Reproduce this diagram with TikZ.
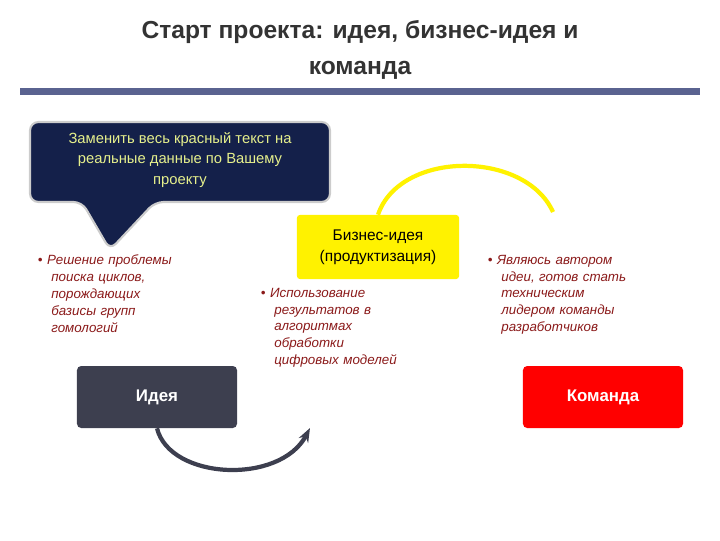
\documentclass[tikz,border=0pt]{standalone}
\usepackage{fontspec}
\setmainfont{Liberation Sans}
\usetikzlibrary{arrows.meta}
\definecolor{navy}{HTML}{14204A}
\definecolor{titlegray}{HTML}{333333}
\definecolor{rulecol}{HTML}{5A6390}
\definecolor{ideagray}{HTML}{3D3F4F}
\definecolor{textred}{HTML}{8B1A1A}
\definecolor{hint}{HTML}{E6F08C}
\tikzset{
  bullettext/.style={anchor=north west, align=left, text width=4.5cm, font=\fontsize{9.5}{12}\selectfont\itshape, text=textred},
  stagebox/.style={rounded corners=3pt, minimum width=4cm, minimum height=1.55cm, font=\fontsize{12}{14}\selectfont\bfseries, text=white}
}
\begin{document}
\begin{tikzpicture}[x=0.025cm,y=-0.025cm]
\useasboundingbox (0,0) rectangle (720,540);
% title
\node[font=\fontsize{17.5}{25}\selectfont\bfseries, text=titlegray, align=center] (title) at (360,50) {Старт проекта: идея, бизнес-идея и\\команда};
\fill[rulecol] (20,88) rectangle (700,95);
% callout
\draw[gray!40, line width=1.5pt, fill=navy, rounded corners=6pt] (30,122) -- (330,122) -- (330,202) -- (155,202) -- (110,250) -- (82,202) -- (30,202) -- cycle;
\node[text=hint, align=center, font=\fontsize{10.5}{14.5}\selectfont] (hinttext) at (180,160) {Заменить весь красный текст на\\реальные данные по Вашему\\проекту};
% white text boxes
\fill[white] (35,250) rectangle (215,390);
\fill[white] (258,282) rectangle (440,375);
\fill[white] (485,250) rectangle (665,355);
\node[bullettext] (ideatext) at (33,250) {\textbullet\ Решение проблемы\\\hspace*{1em}поиска циклов,\\\hspace*{1em}порождающих\\\hspace*{1em}базисы групп\\\hspace*{1em}гомологий};
\node[bullettext] (biztext) at (256,283) {\textbullet\ Использование\\\hspace*{1em}результатов в\\\hspace*{1em}алгоритмах\\\hspace*{1em}обработки\\\hspace*{1em}цифровых моделей};
\node[bullettext] (teamtext) at (483,250) {\textbullet\ Являюсь автором\\\hspace*{1em}идеи, готов стать\\\hspace*{1em}техническим\\\hspace*{1em}лидером команды\\\hspace*{1em}разработчиков};
% stage boxes
\node[stagebox, fill=ideagray] (idea) at (157,397) {Идея};
\node[stagebox, fill=red] (team) at (603,397) {Команда};
\node[fill=yellow, rounded corners=2pt, minimum width=4.05cm, minimum height=1.6cm, align=center, font=\fontsize{11}{15}\selectfont] (biz) at (378,247) {Бизнес-идея\\(продуктизация)};
% arcs
\draw[yellow, line width=3pt] (biz.north) .. controls (400,150) and (525,150) .. (553,212);
\draw[ideagray, line width=3pt, -{Stealth[length=10pt]}] (idea.south) .. controls (170,480) and (280,485) .. (310,428);
\end{tikzpicture}
\end{document}
